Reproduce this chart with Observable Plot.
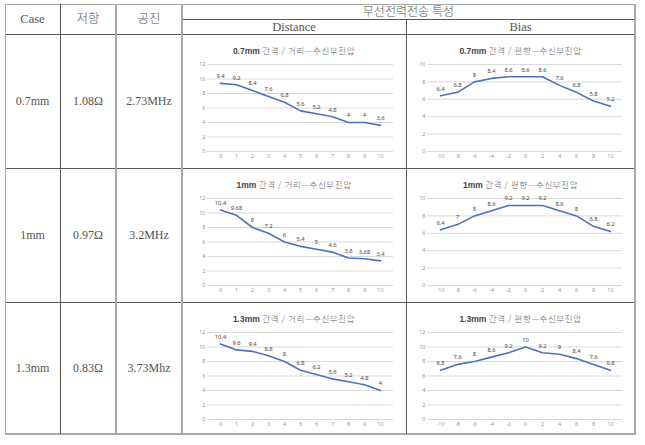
<!DOCTYPE html>
<html><head><meta charset="utf-8">
<script src="https://cdn.jsdelivr.net/npm/d3@7"></script>
<script src="https://cdn.jsdelivr.net/npm/@observablehq/plot@0.6"></script>
<style>
body{margin:0;background:#fff;width:645px;height:445px;position:relative;overflow:hidden;font-family:"Liberation Serif","Noto Sans CJK KR",serif;color:#555;}
.ln{position:absolute;background:#5a5a5a}
.t{position:absolute;text-align:center;font-size:12px;line-height:14px;white-space:nowrap;font-weight:300}
.cell{position:absolute}
.cell svg{position:absolute;left:0;top:0}
.ttl{position:absolute;left:0;width:100%;top:10px;text-align:center;font-family:"Noto Sans CJK KR",sans-serif;font-weight:300;font-size:8.5px;line-height:12px;color:#666;letter-spacing:0.6px;white-space:nowrap;z-index:2}
.ttl b{font-family:"Liberation Sans","Noto Sans",sans-serif;letter-spacing:0;color:#444;font-weight:bold}
</style>
</head><body>
<script>
// ---- data ----
const cases = ["0.7mm", "1mm", "1.3mm"];
const resistances = ["1.08Ω", "0.97Ω", "0.83Ω"];
const frequencies = ["2.73MHz", "3.2MHz", "3.73Mhz"];
const headerLabels = ["Case", "저항", "공진"];
const groupHeader = "무선전력전송 특성";
const subHeaders = ["Distance", "Bias"];

const distanceX = [0, 1, 2, 3, 4, 5, 6, 7, 8, 9, 10];
const biasX = [-10, -8, -6, -4, -2, 0, 2, 4, 6, 8, 10];

const distance07 = [9.4, 9.2, 8.4, 7.6, 6.8, 5.6, 5.2, 4.8, 4, 4, 3.6];
const distance10 = [10.4, 9.68, 8, 7.2, 6, 5.4, 5, 4.6, 3.8, 3.68, 3.4];
const distance13 = [10.4, 9.6, 9.4, 8.8, 8, 6.8, 6.2, 5.6, 5.2, 4.8, 4];

const bias07 = [6.4, 6.8, 8, 8.4, 8.6, 8.6, 8.6, 7.6, 6.8, 5.8, 5.2];
const bias10 = [6.4, 7, 8, 8.6, 9.2, 9.2, 9.2, 8.6, 8, 6.8, 6.2];
const bias13 = [6.8, 7.6, 8, 8.6, 9.2, 10, 9.2, 9, 8.4, 7.6, 6.8];

const distanceYMax = [12, 12, 12];
const biasYMax = [10, 10, 12];

const distanceTitleSuffix = " 간격 / 거리—수신부전압";
const biasTitleSuffix = " 간격 / 편향—수신부전압";

// ---- layout ----
const colX = [5, 60, 116, 182, 406, 635];
const rowY = [34, 168, 302, 434];
const body = document.body;

function line(x, y, w, h, color) {
  const d = document.createElement("div");
  d.className = "ln";
  Object.assign(d.style, {left: x + "px", top: y + "px", width: w + "px", height: h + "px"});
  if (color) d.style.background = color;
  body.appendChild(d);
}
function text(str, x0, x1, yc, size) {
  const d = document.createElement("div");
  d.className = "t";
  d.textContent = str;
  Object.assign(d.style, {left: x0 + "px", width: (x1 - x0) + "px", top: (yc - 7) + "px"});
  if (size) d.style.fontSize = size + "px";
  body.appendChild(d);
}

// header text
headerLabels.forEach((h, i) => text(h, colX[i], colX[i + 1], 19, 12.5));
text(groupHeader, colX[3], colX[5], 11.5, 12);
subHeaders.forEach((h, i) => text(h, colX[3 + i], colX[4 + i], 26.5, 12.5));

// body text
for (let r = 0; r < 3; r++) {
  const yc = (rowY[r] + rowY[r + 1]) / 2;
  text(cases[r], colX[0], colX[1], yc, 12);
  text(resistances[r], colX[1], colX[2], yc, 12);
  text(frequencies[r], colX[2], colX[3], yc, 12);
}

function chart(xs, ys, yMax, w, h, ml, mr) {
  const data = xs.map((x, i) => ({x, y: ys[i]}));
  const ticks = d3.range(0, yMax + 1, 2);
  return Plot.plot({
    width: w, height: h,
    marginTop: 30, marginBottom: h - 117, marginLeft: ml, marginRight: mr,
    style: {fontFamily: "'Noto Sans', 'Liberation Sans', sans-serif", fontSize: "5.5px", background: "transparent", overflow: "visible"},
    x: {type: "point", domain: xs, padding: 0.5},
    y: {domain: [0, yMax]},
    marks: [
      Plot.gridY(ticks, {stroke: "#d9d9d9", strokeOpacity: 1}),
      Plot.axisY(ticks, {tickSize: 0, tickPadding: 2, fill: "#999", label: null}),
      Plot.axisX(xs, {tickSize: 0, tickPadding: 3, fill: "#999", label: null, tickFormat: d => String(d)}),
      Plot.line(data, {x: "x", y: "y", stroke: "#4a72c0", strokeWidth: 1.6}),
      Plot.text(data, {x: "x", y: "y", text: d => String(d.y), dy: -7, fill: "#444", fontSize: 5.8})
    ]
  });
}

const distSeries = [distance07, distance10, distance13];
const biasSeries = [bias07, bias10, bias13];
for (let r = 0; r < 3; r++) {
  const h = rowY[r + 1] - rowY[r];
  const c1 = document.createElement("div");
  c1.className = "cell";
  Object.assign(c1.style, {left: colX[3] + "px", top: rowY[r] + "px", width: (colX[4] - colX[3]) + "px", height: h + "px"});
  c1.appendChild(chart(distanceX, distSeries[r], distanceYMax[r], colX[4] - colX[3], h, 25, 13));
  const t1 = document.createElement("div");
  t1.className = "ttl";
  t1.innerHTML = "<b>" + cases[r] + "</b>" + distanceTitleSuffix;
  c1.appendChild(t1);
  body.appendChild(c1);

  const c2 = document.createElement("div");
  c2.className = "cell";
  Object.assign(c2.style, {left: colX[4] + "px", top: rowY[r] + "px", width: (colX[5] - colX[4]) + "px", height: h + "px"});
  c2.appendChild(chart(biasX, biasSeries[r], biasYMax[r], colX[5] - colX[4], h, 21, 13));
  const t2 = document.createElement("div");
  t2.className = "ttl";
  t2.innerHTML = "<b>" + cases[r] + "</b>" + biasTitleSuffix;
  c2.appendChild(t2);
  body.appendChild(c2);
}

// table lines
const dark = "#5a5a5a", light = "#a8a8a8";
line(5, 4, 630, 1, light);
line(182, 19, 453, 1, dark);
line(5, 34, 630, 1, dark);
line(5, 168, 630, 1, dark);
line(5, 302, 630, 1, dark);
line(5, 433, 631, 2, light);
line(5, 4, 1, 430, light);
line(60, 4, 1, 430, dark);
line(115, 4, 2, 430, light);
line(181, 4, 2, 430, light);
line(406, 19, 1, 415, dark);
line(634, 4, 2, 431, light);
</script>
</body></html>
